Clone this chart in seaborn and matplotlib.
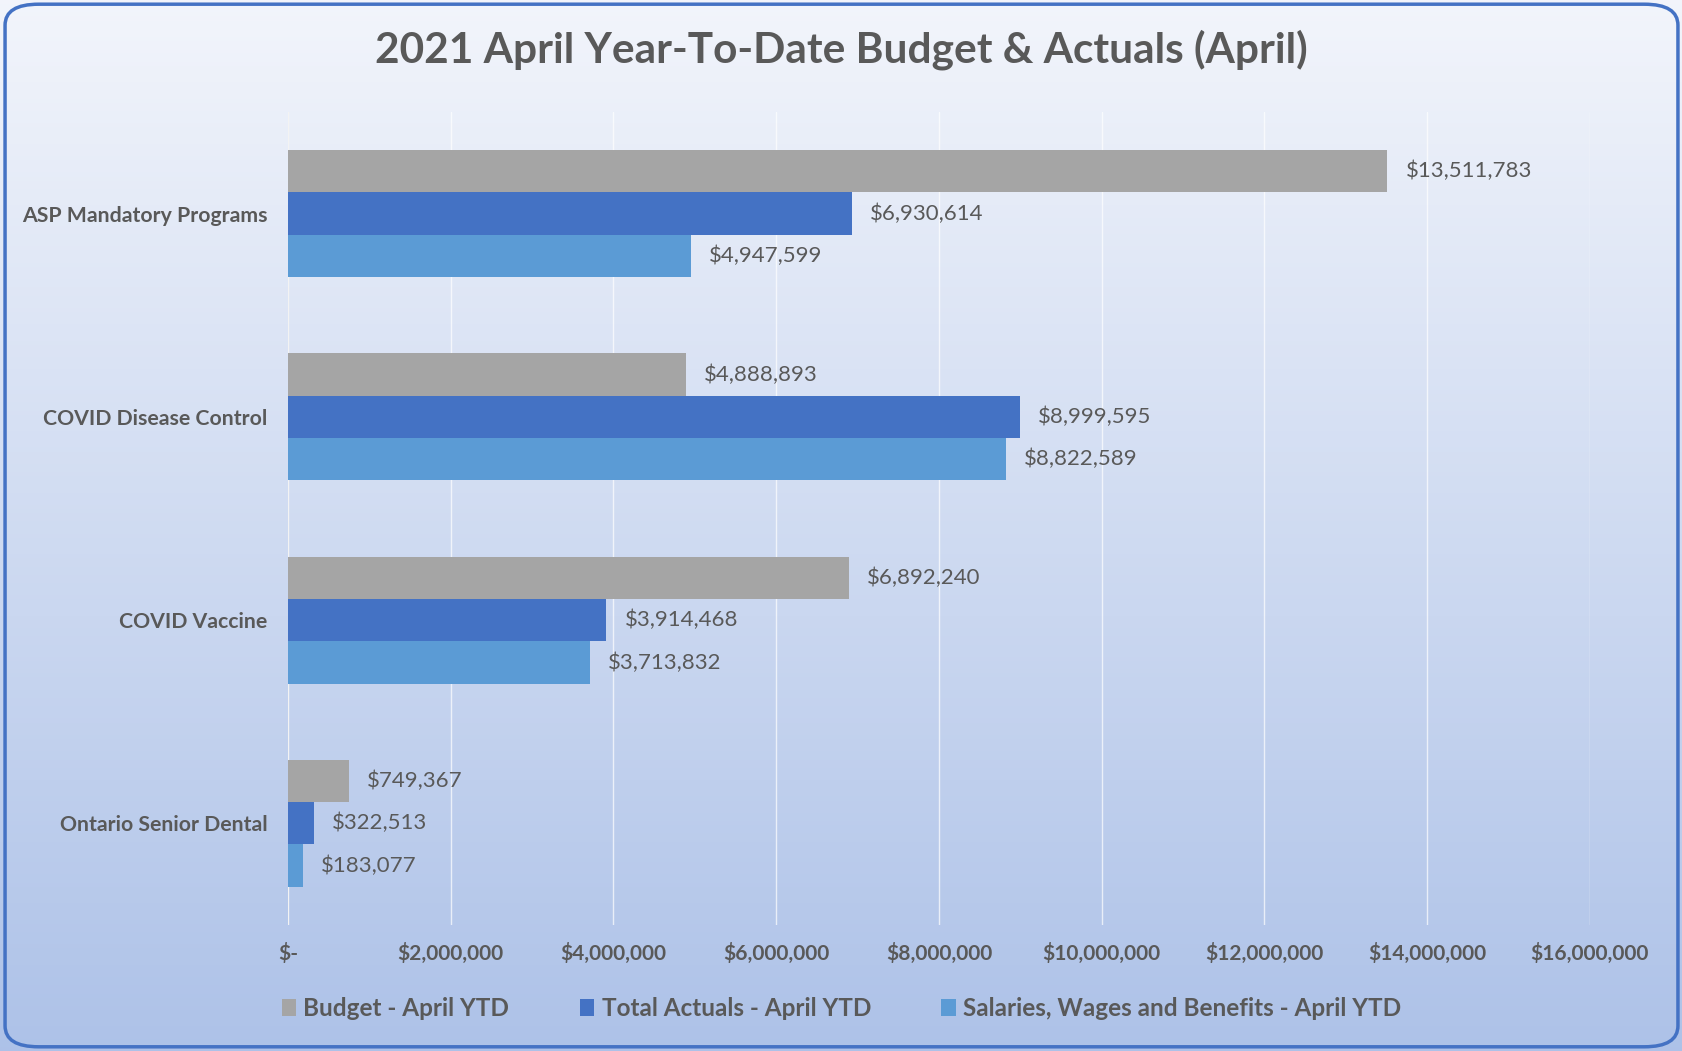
import numpy as np
import pandas as pd
import seaborn as sns
import matplotlib.pyplot as plt
from matplotlib.patches import FancyBboxPatch
from matplotlib.ticker import FuncFormatter

# datos
programas = ["ASP Mandatory Programs", "COVID Disease Control", "COVID Vaccine", "Ontario Senior Dental"]
series = ["Budget - April YTD", "Total Actuals - April YTD", "Salaries, Wages and Benefits - April YTD"]
presupuesto = [13511783, 4888893, 6892240, 749367]
total_real = [6930614, 8999595, 3914468, 322513]
salarios = [4947599, 8822589, 3713832, 183077]
colores = ["#A5A5A5", "#4472C4", "#5B9BD5"]

df = pd.DataFrame({
    "programa": programas * 3,
    "serie": [series[0]] * 4 + [series[1]] * 4 + [series[2]] * 4,
    "valor": presupuesto + total_real + salarios,
})

sns.set_style("white")
plt.rcParams["font.family"] = ["Lato", "DejaVu Sans"]
texto = "#595959"

fig = plt.figure(figsize=(16.83, 10.51), dpi=100)

# fondo con degradado y borde redondeado
fondo = fig.add_axes([0, 0, 1, 1], zorder=-10)
grad = np.linspace(0, 1, 256).reshape(-1, 1)
top = np.array([0.95, 0.96, 0.985])
bot = np.array([0.68, 0.76, 0.91])
img = top + (bot - top) * grad[..., None]
fondo.imshow(img, aspect="auto", extent=[0, 1, 0, 1], origin="upper")
fondo.add_patch(FancyBboxPatch((0.003, 0.004), 0.994, 0.992,
                               boxstyle="round,pad=0,rounding_size=0.02",
                               transform=fondo.transAxes, fill=False,
                               edgecolor="#4472C4", linewidth=2.5))
fondo.set_xlim(0, 1)
fondo.set_ylim(0, 1)
fondo.axis("off")

ax = fig.add_axes([0.1711, 0.12, 0.7736, 0.7734])
ax.patch.set_alpha(0)
sns.barplot(data=df, y="programa", x="valor", hue="serie", palette=colores,
            orient="h", width=0.625, gap=0, saturation=1, linewidth=0,
            edgecolor="none", ax=ax, legend=True)

for cont in ax.containers:
    etiquetas = [f"${v:,.0f}" for v in cont.datavalues]
    ax.bar_label(cont, labels=etiquetas, padding=13, fontsize=16, color=texto)

ax.set_xlim(0, 16000000)
ax.set_ylim(3.5, -0.5)
ax.set_xticks(np.arange(0, 16000001, 2000000))
ax.xaxis.set_major_formatter(FuncFormatter(lambda v, p: "$-" if v == 0 else f"${v:,.0f}"))
ax.grid(axis="x", color="#FFFFFF", alpha=0.7, linewidth=1)
ax.set_axisbelow(True)
for s in ax.spines.values():
    s.set_visible(False)
ax.axvline(0, color="#D9D9D9", linewidth=1.5, zorder=0.5)
ax.set_xlabel("")
ax.set_ylabel("")
ax.tick_params(axis="both", length=0, labelcolor=texto, labelsize=15)
ax.tick_params(axis="y", labelsize=15.3)
ax.tick_params(axis="x", pad=13)
ax.tick_params(axis="y", pad=15)
for lab in ax.get_xticklabels() + ax.get_yticklabels():
    lab.set_fontweight("bold")

handles, labels = ax.get_legend_handles_labels()
for h in handles:
    h.set_edgecolor("none")
ax.legend(handles, labels, loc="center", bbox_to_anchor=(0.5, 0.04), bbox_transform=fig.transFigure,
          ncol=3, frameon=False, handlelength=0.6, handleheight=0.7,
          handletextpad=0.3, columnspacing=2.9, labelcolor=texto,
          prop={"weight": "bold", "size": 17.5})

fig.text(0.5, 0.953, "2021 April Year-To-Date Budget & Actuals (April)", ha="center", va="center",
         fontsize=30.5, fontweight="bold", color=texto)

plt.savefig("out.png", dpi=100)
